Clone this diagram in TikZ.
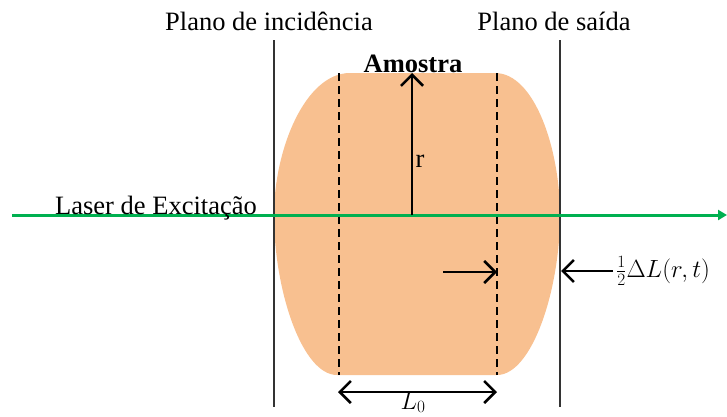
\documentclass[tikz,border=0pt]{standalone}
\usepackage{fontspec}
\setmainfont{Liberation Serif}
\usetikzlibrary{arrows.meta}
\definecolor{sample}{HTML}{F8C090}
\definecolor{laser}{HTML}{00B050}
\tikzset{
  lbl/.style={font=\fontsize{26.5}{30}\selectfont, inner sep=0pt, anchor=base},
  plane/.style={draw=black!80, line width=1.4pt},
  dash line/.style={line width=2.6pt, dash pattern=on 8pt off 5pt},
  barb/.style={line width=2.6pt, -{Straight Barb[length=11pt,width=22pt,line width=2.6pt]}},
  dbarb/.style={line width=2.6pt, {Straight Barb[length=11pt,width=22pt,line width=2.6pt]}-{Straight Barb[length=11pt,width=22pt,line width=2.6pt]}}
}
\begin{document}
\begin{tikzpicture}[x=1pt,y=-1pt]
\useasboundingbox (0,0) rectangle (727,416);
% sample
\fill[sample] (350,73) -- (495,73)
  .. controls (535,73) and (560,150) .. (560,215)
  .. controls (560,290) and (532,375) .. (497,375)
  -- (337,375)
  .. controls (302,375) and (274,290) .. (274,215)
  .. controls (274,150) and (305,73) .. (350,73) -- cycle;
% planes
\coordinate (pl1t) at (274,40); \coordinate (pl1b) at (274,407);
\coordinate (pl2t) at (560,40); \coordinate (pl2b) at (560,407);
\draw[plane] (pl1t) -- (pl1b);
\draw[plane] (pl2t) -- (pl2b);
\node[lbl] (tinc) at (269,30) {Plano de incidência};
\node[lbl] (tsai) at (554,30) {Plano de saída};
% dashed lines
\coordinate (d1t) at (339,73); \coordinate (d1b) at (339,375);
\coordinate (d2t) at (497,73); \coordinate (d2b) at (497,375);
\draw[dash line] (d1t) -- (d1b);
\draw[dash line] (d2t) -- (d2b);
% laser
\coordinate (ls) at (12,215); \coordinate (le) at (727,215);
\draw[laser, line width=3pt, -{Triangle[length=9pt,width=10pt]}] (ls) -- (le);
\node[lbl, anchor=base west] (laser) at (55,214) {Laser de Excitação};
% radius
\coordinate (rc) at (412,215); \coordinate (rt) at (412,73);
\draw[barb] (rc) -- (rt);
\node[lbl] (r) at (420,167) {r};
\node[lbl, font=\fontsize{26.5}{30}\selectfont\bfseries] (amostra) at (413,72) {Amostra};
% expansion arrows
\coordinate (a1s) at (443,272); \coordinate (a1e) at (497,272);
\draw[barb] (a1s) -- (a1e);
\coordinate (a2s) at (613,271); \coordinate (a2e) at (561,271);
\draw[barb] (a2s) -- (a2e);
\node[lbl, anchor=west] (dl) at (616,271) {$\frac{1}{2}\Delta L(r,t)$};
% L0
\coordinate (l0a) at (338,392); \coordinate (l0b) at (497,392);
\draw[dbarb] (l0a) -- (l0b);
\node[lbl] (L0) at (413,409) {$L_0$};
\end{tikzpicture}
\end{document}
